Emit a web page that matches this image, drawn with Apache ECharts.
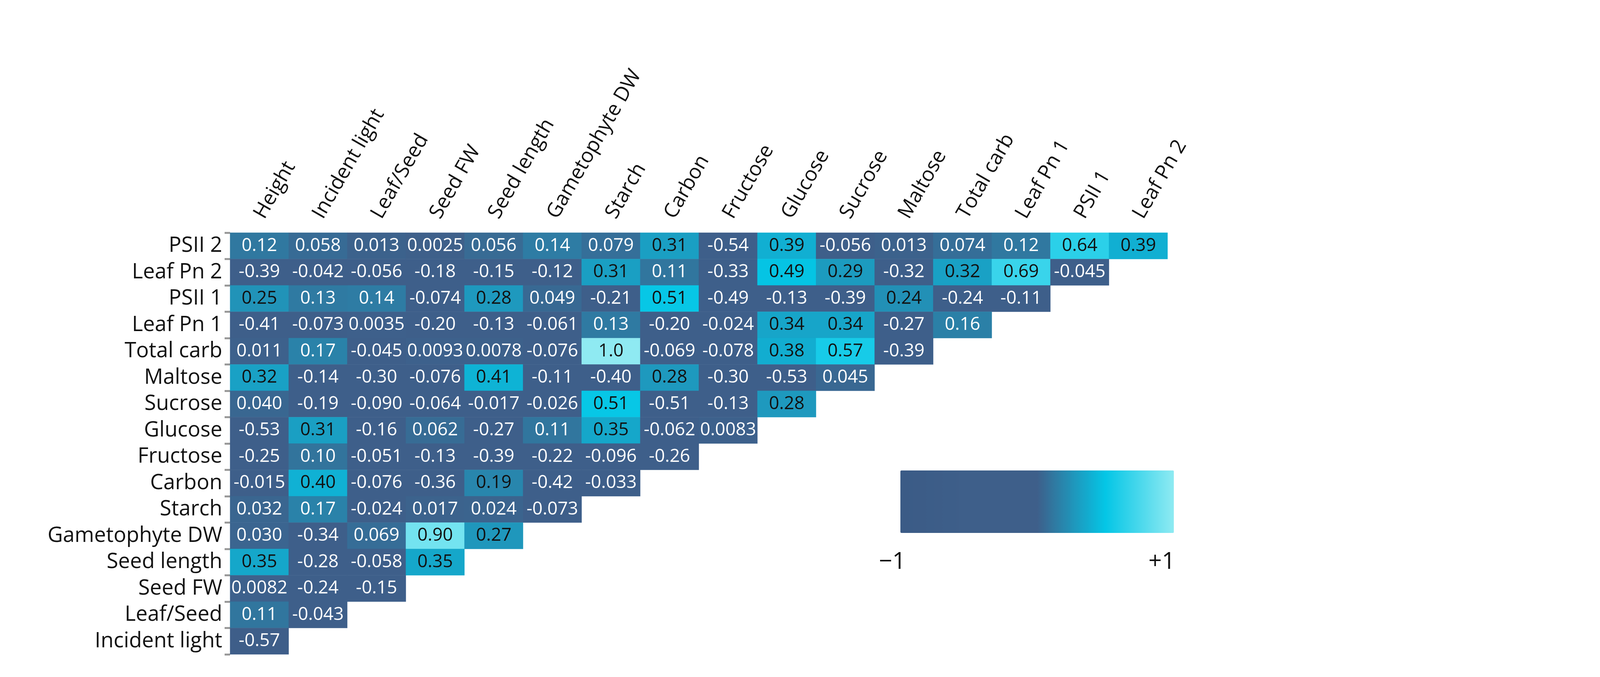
<!DOCTYPE html>
<html>
<head>
<meta charset="utf-8">
<script src="https://cdn.jsdelivr.net/npm/echarts@6/dist/echarts.min.js"></script>
<style>html,body{margin:0;background:#fff}#chart{width:4100px;height:1734px}</style>
</head>
<body>
<div id="chart"></div>
<script>
// columns (x axis, top) and rows (y axis, top to bottom)
const colNames = ["Height", "Incident light", "Leaf/Seed", "Seed FW", "Seed length", "Gametophyte DW",
  "Starch", "Carbon", "Fructose", "Glucose", "Sucrose", "Maltose", "Total carb", "Leaf Pn 1", "PSII 1", "Leaf Pn 2"];
const rowNames = ["PSII 2", "Leaf Pn 2", "PSII 1", "Leaf Pn 1", "Total carb", "Maltose", "Sucrose", "Glucose",
  "Fructose", "Carbon", "Starch", "Gametophyte DW", "Seed length", "Seed FW", "Leaf/Seed", "Incident light"];

// correlation labels as printed, one list per row
const psii2 = ["0.12", "0.058", "0.013", "0.0025", "0.056", "0.14", "0.079", "0.31", "-0.54", "0.39", "-0.056", "0.013", "0.074", "0.12", "0.64", "0.39"];
const leafPn2 = ["-0.39", "-0.042", "-0.056", "-0.18", "-0.15", "-0.12", "0.31", "0.11", "-0.33", "0.49", "0.29", "-0.32", "0.32", "0.69", "-0.045"];
const psii1 = ["0.25", "0.13", "0.14", "-0.074", "0.28", "0.049", "-0.21", "0.51", "-0.49", "-0.13", "-0.39", "0.24", "-0.24", "-0.11"];
const leafPn1 = ["-0.41", "-0.073", "0.0035", "-0.20", "-0.13", "-0.061", "0.13", "-0.20", "-0.024", "0.34", "0.34", "-0.27", "0.16"];
const totalCarb = ["0.011", "0.17", "-0.045", "0.0093", "0.0078", "-0.076", "1.0", "-0.069", "-0.078", "0.38", "0.57", "-0.39"];
const maltose = ["0.32", "-0.14", "-0.30", "-0.076", "0.41", "-0.11", "-0.40", "0.28", "-0.30", "-0.53", "0.045"];
const sucrose = ["0.040", "-0.19", "-0.090", "-0.064", "-0.017", "-0.026", "0.51", "-0.51", "-0.13", "0.28"];
const glucose = ["-0.53", "0.31", "-0.16", "0.062", "-0.27", "0.11", "0.35", "-0.062", "0.0083"];
const fructose = ["-0.25", "0.10", "-0.051", "-0.13", "-0.39", "-0.22", "-0.096", "-0.26"];
const carbon = ["-0.015", "0.40", "-0.076", "-0.36", "0.19", "-0.42", "-0.033"];
const starch = ["0.032", "0.17", "-0.024", "0.017", "0.024", "-0.073"];
const gametophyteDW = ["0.030", "-0.34", "0.069", "0.90", "0.27"];
const seedLength = ["0.35", "-0.28", "-0.058", "0.35"];
const seedFW = ["0.0082", "-0.24", "-0.15"];
const leafSeed = ["0.11", "-0.043"];
const incidentLight = ["-0.57"];

const rows = [psii2, leafPn2, psii1, leafPn1, totalCarb, maltose, sucrose, glucose,
  fructose, carbon, starch, gametophyteDW, seedLength, seedFW, leafSeed, incidentLight];

const cells = [];
rows.forEach((r, ri) => {
  r.forEach((txt, ci) => {
    const v = parseFloat(txt);
    cells.push({
      value: [ci, ri, v],
      name: txt,
      label: { color: v >= 0.19 ? "#111" : "#fff" },
    });
  });
});

const font = "'Liberation Sans Narrow', 'Open Sans', sans-serif";
const chart = echarts.init(document.getElementById("chart"));
chart.setOption({
  animation: false,
  grid: { left: 589, top: 596, width: 2400, height: 1080 },
  xAxis: {
    type: "category", position: "top", data: colNames,
    axisLine: { show: false }, axisTick: { show: false }, splitArea: { show: false },
    axisLabel: { rotate: -60, fontSize: 52, color: "#111", fontFamily: font, margin: 40, interval: 0 },
  },
  yAxis: {
    type: "category", inverse: true, data: rowNames,
    axisLine: { show: false },
    axisTick: { show: true, length: 14, lineStyle: { color: "#999", width: 5 } },
    axisLabel: { fontSize: 54, color: "#111", fontFamily: font, margin: 20, interval: 0 },
  },
  visualMap: {
    type: "continuous", min: -1, max: 1, dimension: 2, seriesIndex: 0,
    orient: "horizontal", left: 2290, top: 1190, itemWidth: 160, itemHeight: 700,
    calculable: false, showLabel: false, text: ["", ""],
    inRange: { color: ["#3b5b86", "#3e5f8a", "#3e5f8a", "#04c6e6", "#8feaf2"] },
  },
  graphic: [
    { type: "text", left: 2250, top: 1410, style: { text: "\u22121", fontSize: 60, fill: "#111", fontFamily: font } },
    { type: "text", left: 2940, top: 1410, style: { text: "+1", fontSize: 60, fill: "#111", fontFamily: font } },
  ],
  series: [{
    type: "heatmap",
    data: cells,
    label: {
      show: true, fontSize: 46, fontFamily: font,
      formatter: (p) => p.name,
    },
  }],
});
</script>
</body>
</html>
